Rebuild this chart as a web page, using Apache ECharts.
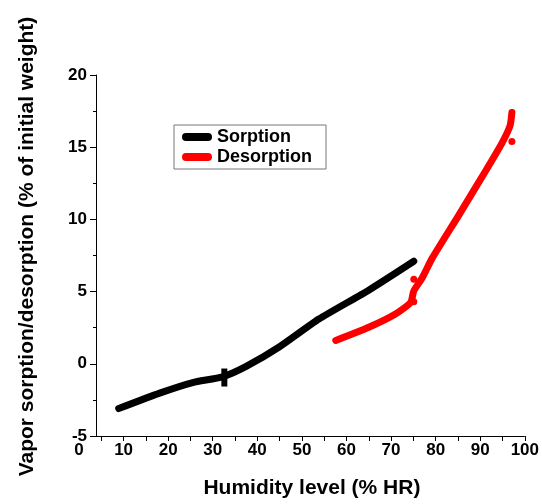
<!DOCTYPE html>
<html>
<head>
<meta charset="utf-8">
<script src="https://cdn.jsdelivr.net/npm/echarts@6/dist/echarts.min.js"></script>
<style>
  html, body { margin: 0; padding: 0; background: #fff; }
  #chart { width: 542px; height: 504px; }
</style>
</head>
<body>
<div id="chart"></div>
<script>
var sorptionData = [[8.9, -3.1], [18.1, -2.03], [25.5, -1.3], [32.2, -0.9], [37.4, -0.2], [44.9, 1.16], [53.8, 3.1], [65, 5.1], [75.1, 7.1]];
var desorptionData = [[57.6, 1.62], [65, 2.53], [71, 3.45], [74.4, 4.25], [75.1, 5.05], [77, 5.96], [79.2, 7.3], [85.2, 10.3], [91.1, 13.3], [94.9, 15.3], [96.7, 16.5], [97.1, 17.4]];
var sorptionBars = [[32.6, -0.95]];
var desorptionBars = [[75.1, 5.85], [75.1, 4.3], [97.1, 15.4]];
var xTicks = [5, 10, 15, 20, 25, 30, 35, 40, 45, 50, 55, 60, 65, 70, 75, 80, 85, 90, 95, 100];

var chart = echarts.init(document.getElementById('chart'));
var font = 'Liberation Sans, Arial, sans-serif';
var pill = 'path://M4,0 H26 A4,4 0 0 1 26,8 H4 A4,4 0 0 1 4,0 Z';

var option = {
    animation: false,
    grid: { left: 79, right: 17, top: 75, bottom: 64, containLabel: false },
    legend: {
        orient: 'vertical',
        left: 174, top: 125,
        data: [{ name: 'Sorption', icon: pill }, { name: 'Desorption', icon: pill }],
        itemWidth: 30, itemHeight: 8, itemGap: 2, itemTextGap: 1,
        borderColor: '#777', borderWidth: 1,
        padding: [3, 14, 3, 8],
        textStyle: { fontFamily: font, fontWeight: 'bold', fontSize: 18, color: '#000' }
    },
    xAxis: {
        type: 'value', min: 0, max: 100, interval: 10,
        name: 'Humidity level (% HR)', nameLocation: 'middle', nameGap: 42,
        nameTextStyle: { fontFamily: font, fontWeight: 'bold', fontSize: 21, color: '#000', padding: [0, 0, 0, 20] },
        axisLine: { show: false, onZero: false },
        axisTick: { show: true, customValues: xTicks, length: 5, lineStyle: { color: '#000' } },
        axisLabel: { margin: 6, fontFamily: font, fontWeight: 'bold', fontSize: 17, color: '#000' },
        splitLine: { show: false }
    },
    yAxis: {
        type: 'value', min: -5, max: 20, interval: 5, offset: -17,
        name: 'Vapor sorption/desorption (% of initial weight)', nameLocation: 'middle', nameGap: 58,
        nameTextStyle: { fontFamily: font, fontWeight: 'bold', fontSize: 21, color: '#000', padding: [0, 0, 0, 18] },
        axisLine: { show: true, onZero: false, lineStyle: { color: '#000', width: 1 } },
        axisTick: { show: true, length: 6, lineStyle: { color: '#000' } },
        minorTick: { show: true, splitNumber: 2, length: 3, lineStyle: { color: '#000' } },
        axisLabel: { margin: 9, fontFamily: font, fontWeight: 'bold', fontSize: 17, color: '#000' },
        splitLine: { show: false }
    },
    series: [
        {
            name: 'Sorption', type: 'line', data: sorptionData,
            smooth: 0.2, showSymbol: false, symbol: 'none',
            lineStyle: { color: '#000', width: 7, cap: 'round', join: 'round' },
            itemStyle: { color: '#000' },
            markLine: {
                silent: true, symbol: ['none', 'none'], label: { show: false },
                lineStyle: { color: '#000', width: 1, type: 'solid' },
                data: [[{ coord: [3.8, -5] }, { coord: [100, -5] }]]
            }
        },
        {
            name: 'Desorption', type: 'line', data: desorptionData,
            smooth: 0.2, showSymbol: false, symbol: 'none',
            lineStyle: { color: '#ff0000', width: 7, cap: 'round', join: 'round' },
            itemStyle: { color: '#ff0000' }
        },
        {
            name: 'sorptionBar', type: 'scatter', data: sorptionBars,
            symbol: 'rect', symbolSize: [6, 18], itemStyle: { color: '#000', opacity: 1 }, silent: true
        },
        {
            name: 'desorptionBar', type: 'scatter', data: desorptionBars,
            symbol: 'circle', symbolSize: 7, itemStyle: { color: '#ff0000', opacity: 1 }, silent: true
        }
    ]
};

chart.setOption(option);
</script>
</body>
</html>
